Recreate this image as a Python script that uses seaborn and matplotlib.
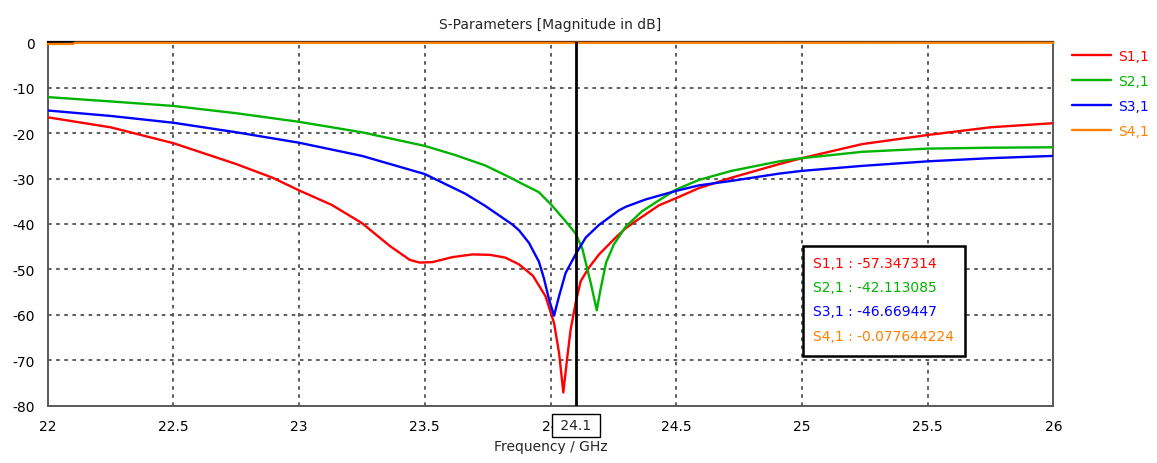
import numpy as np
import pandas as pd
import matplotlib
matplotlib.use("Agg")
import matplotlib.pyplot as plt
import matplotlib.transforms as mtransforms
import seaborn as sns

# ---- data (frequency in GHz, magnitude in dB) ----
freq_s11 = [22.0, 22.25, 22.5, 22.75, 22.894, 23.0, 23.13, 23.25, 23.36, 23.44, 23.48,
            23.53, 23.61, 23.69, 23.76, 23.82, 23.875, 23.93, 23.98, 24.014, 24.034,
            24.051, 24.067, 24.08, 24.1, 24.12, 24.153, 24.193, 24.259, 24.3, 24.338,
            24.431, 24.5, 24.59, 24.72, 24.91, 25.0, 25.24, 25.5, 25.75, 26.0]
s11 = [-16.5, -18.7, -22.2, -26.8, -29.8, -32.6, -35.8, -39.8, -44.8, -47.9, -48.5,
       -48.4, -47.3, -46.7, -46.8, -47.4, -48.9, -51.4, -55.9, -61.8, -68.4,
       -77.1, -69.2, -63.3, -57.347314, -52.6, -49.6, -46.7, -43.0, -40.9, -39.4,
       -35.9, -34.3, -32.1, -29.8, -26.8, -25.5, -22.4, -20.4, -18.7, -17.8]

freq_s21 = [22.0, 22.25, 22.5, 22.75, 23.0, 23.25, 23.5, 23.62, 23.74, 23.848, 23.875,
            23.954, 24.007, 24.06, 24.1, 24.127, 24.16, 24.184, 24.199, 24.221, 24.252,
            24.299, 24.364, 24.431, 24.5, 24.59, 24.72, 24.91, 25.0, 25.24, 25.5, 25.75,
            26.0]
s21 = [-12.05, -13.0, -14.0, -15.6, -17.5, -19.8, -22.8, -24.8, -27.1, -30.0, -30.8,
       -33.0, -36.0, -39.4, -42.113085, -45.5, -53.0, -59.0, -54.4, -48.5, -44.5,
       -40.6, -37.2, -34.8, -32.4, -30.3, -28.3, -26.2, -25.5, -24.1, -23.4, -23.2,
       -23.1]

freq_s31 = [22.0, 22.25, 22.5, 22.75, 23.0, 23.25, 23.5, 23.66, 23.74, 23.848, 23.875,
            23.915, 23.928, 23.954, 23.974, 23.994, 24.014, 24.034, 24.06, 24.1, 24.14,
            24.193, 24.272, 24.3, 24.378, 24.5, 24.59, 24.72, 24.91, 25.0, 25.24, 25.5,
            25.75, 26.0]
s31 = [-15.0, -16.2, -17.7, -19.8, -22.1, -25.0, -29.0, -33.3, -36.0, -40.1, -41.4,
       -44.2, -45.6, -48.3, -52.0, -56.6, -60.2, -55.9, -50.8, -46.669447, -43.0,
       -40.2, -37.0, -36.2, -34.6, -32.7, -31.5, -30.5, -28.9, -28.3, -27.2, -26.2,
       -25.5, -25.0]

freq_s41 = [22.0, 22.1, 22.11, 23.0, 24.1, 25.0, 26.0]
s41 = [-0.35, -0.33, -0.08, -0.08, -0.077644224, -0.07, -0.06]

series_names = ["S1,1", "S2,1", "S3,1", "S4,1"]
series_freqs = [freq_s11, freq_s21, freq_s31, freq_s41]
series_vals = [s11, s21, s31, s41]
series_colors = ["#FF0000", "#00B400", "#0000FF", "#FF8000"]

marker_freq = 24.1
x_ticks = [22, 22.5, 23, 23.5, 24, 24.5, 25, 25.5, 26]
y_ticks = [0, -10, -20, -30, -40, -50, -60, -70, -80]

# ---- styling ----
sns.set_style("white")
plt.rcParams["font.family"] = ["DejaVu Sans"]
plt.rcParams["axes.unicode_minus"] = False
FS = 10

fig = plt.figure(figsize=(11.57, 4.64), dpi=100)
ax = fig.add_axes([0.0412, 0.1237, 0.8692, 0.7828])

for name, fr, vals, col in zip(series_names, series_freqs, series_vals, series_colors):
    df = pd.DataFrame({"Frequency": fr, "dB": vals})
    sns.lineplot(data=df, x="Frequency", y="dB", ax=ax, color=col, lw=1.7,
                 label=name, clip_on=(name != "S4,1"), zorder=3, legend=False)

ax.set_xlim(22, 26)
ax.set_ylim(-80, 0)
ax.set_xticks(x_ticks)
ax.set_xticklabels(["%g" % t for t in x_ticks])
ax.set_yticks(y_ticks)
ax.set_yticklabels(["%g" % t for t in y_ticks])
ax.tick_params(axis="both", which="major", labelsize=FS, colors="#555555",
               labelcolor="black", length=4, width=1.2, direction="out")
ax.tick_params(axis="x", pad=6)
ax.tick_params(axis="y", pad=5)
ax.grid(True, color="#505050", linestyle=(0, (2, 2.5)), linewidth=1.3)

for side in ["left", "bottom", "right"]:
    ax.spines[side].set_color("#5a5a5a")
    ax.spines[side].set_linewidth(1.4)
ax.spines["top"].set_color("black")
ax.spines["top"].set_linewidth(1.6)

ax.set_title("S-Parameters [Magnitude in dB]", fontsize=FS, pad=10)
ax.set_xlabel("Frequency / GHz", fontsize=FS, labelpad=4)
ax.set_ylabel("")

# vertical marker with its frequency tag on the axis
ax.axvline(marker_freq, color="black", lw=2.0, zorder=4)
trans = mtransforms.blended_transform_factory(ax.transData, ax.transAxes)
ax.text(marker_freq, -0.0545, " %g " % marker_freq, transform=trans, ha="center",
        va="center", fontsize=FS, clip_on=False, zorder=10,
        bbox=dict(boxstyle="square,pad=0.3", facecolor="white", edgecolor="black", lw=1.0))

# marker readout box
readout = []
for name, fr, vals in zip(series_names, series_freqs, series_vals):
    idx = int(np.argmin(np.abs(np.asarray(fr) - marker_freq)))
    readout.append("%s : %.8g" % (name, vals[idx]))

box = plt.Rectangle((0.751, 0.1366), 0.161, 0.3034, transform=ax.transAxes,
                    facecolor="white", edgecolor="black", lw=1.8, zorder=6)
ax.add_patch(box)
row_y = [264, 288, 312, 337]
for txt, col, yp in zip(readout, series_colors, row_y):
    yf = (406.6 - yp) / 363.2
    ax.text(0.7615, yf, txt, transform=ax.transAxes, color=col, fontsize=FS,
            ha="left", va="center", zorder=7)

# legend
handles, labels = ax.get_legend_handles_labels()
fig.legend(handles, labels, loc="upper left", bbox_to_anchor=(0.9265, 0.892),
           frameon=False, fontsize=FS, labelcolor="linecolor", handlelength=2.8,
           handletextpad=0.5, labelspacing=0.78, borderpad=0, borderaxespad=0)

fig.savefig("out.png", dpi=100)
